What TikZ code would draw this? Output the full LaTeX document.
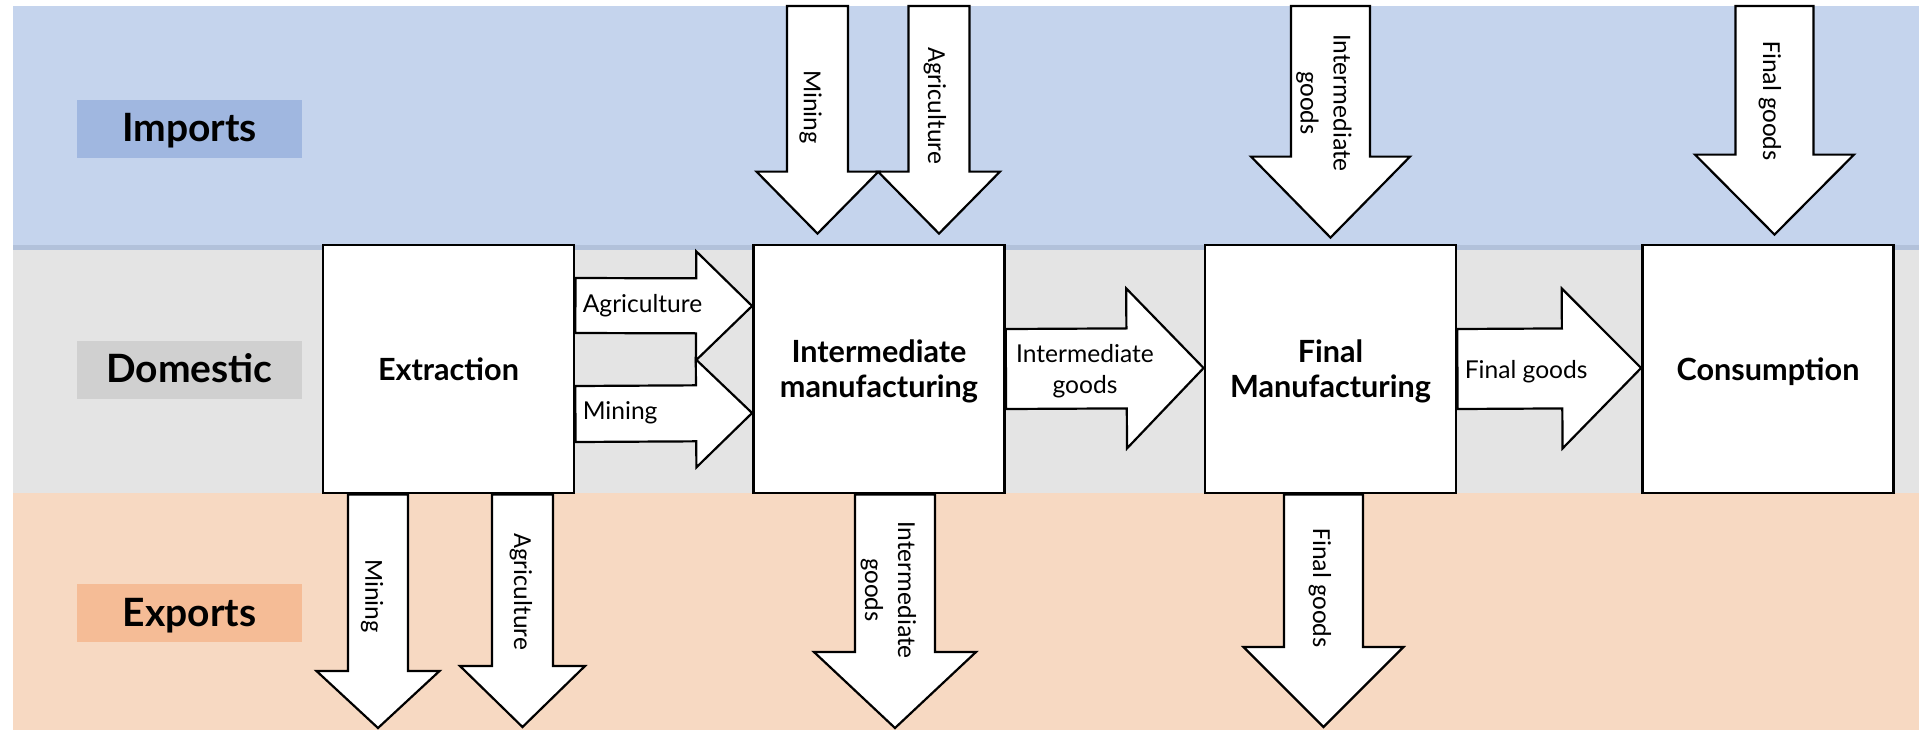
\documentclass[tikz,border=0pt]{standalone}
\usepackage{fontspec}
\setmainfont{Lato}
\newfontfamily\vfont{Carlito}
\usetikzlibrary{calc}
\pgfdeclarelayer{bg}
\pgfdeclarelayer{arr}
\pgfsetlayers{bg,arr,main}

\definecolor{impband}{RGB}{197,212,237}
\definecolor{implab}{RGB}{160,183,224}
\definecolor{sepline}{RGB}{178,193,218}
\definecolor{domband}{RGB}{228,228,228}
\definecolor{domlab}{RGB}{208,208,208}
\definecolor{expband}{RGB}{247,217,194}
\definecolor{explab}{RGB}{245,188,150}

\tikzset{
  box/.style={draw, line width=1.4pt, fill=white, minimum width=125.5pt,
    minimum height=124pt, inner sep=0pt, align=center, text depth=0pt,
    font=\fontsize{15.3}{17.5}\selectfont\bfseries},
  bandlab/.style={minimum width=112.5pt, minimum height=29pt, inner sep=0pt,
    text height=14.5pt, text depth=1.5pt,
    font=\fontsize{19.5}{22}\selectfont\bfseries},
  blk/.style={draw, line width=1.1pt, fill=white, line join=miter},
  hlab/.style={inner sep=0pt, align=center, font=\fontsize{12.3}{15.5}\selectfont},
  vlab/.style={inner sep=0pt, align=center, rotate=-90,
    font=\vfont\fontsize{13}{16.5}\selectfont},
}

% block arrow: tail, tip, shaft half width, head half width, head length
\newcommand\blkarrow[5]{%
  \coordinate (ba-base) at ($(#2)!#5!(#1)$);
  \draw[blk] ($(#1)!#3!90:(#2)$) -- ($(ba-base)!#3!90:(#2)$)
    -- ($(ba-base)!#4!90:(#2)$) -- (#2)
    -- ($(ba-base)!#4!-90:(#2)$) -- ($(ba-base)!#3!-90:(#2)$)
    -- ($(#1)!#3!-90:(#2)$) -- cycle;
}

\begin{document}
\begin{tikzpicture}[x=0.5pt,y=-0.5pt]
\useasboundingbox (0,0) rectangle (1919,730);

% bands
\begin{pgfonlayer}{bg}
  \fill[impband] (13,6) rectangle (1919,245);
  \fill[sepline] (13,245) rectangle (1919,249.5);
  \fill[domband] (13,249.5) rectangle (1919,493);
  \fill[expband] (13,493) rectangle (1919,730);
\end{pgfonlayer}

% band labels
\node[bandlab, fill=implab] (imports) at (189.5,128.5) {Imports};
\node[bandlab, fill=domlab] (domestic) at (189.5,369.5) {Domestic};
\node[bandlab, fill=explab] (exports) at (189.5,613) {Exports};

% stages
\node[box] (ext)  at (448.5,369) {Extraction};
\node[box] (im)   at (879,369)   {Intermediate\\manufacturing};
\node[box] (fm)   at (1330.5,369) {Final\\Manufacturing};
\node[box] (cons) at (1768,369)  {Consumption};

% flow end points
\coordinate (agrT) at (ext.east |- 0,305.5);
\coordinate (agrH) at (im.west |- 0,306);
\coordinate (minT) at (ext.east |- 0,414);
\coordinate (minH) at (im.west |- 0,413);
\coordinate (igT) at (im.east |- 0,369);
\coordinate (igH) at (fm.west |- 0,368);
\coordinate (fgT) at (fm.east |- 0,369);
\coordinate (fgH) at (cons.west |- 0,368);

\coordinate (iMinT) at (817.5,6);
\coordinate (iMinH) at (im.north -| 817.5,0);
\coordinate (iAgrT) at (939,6);
\coordinate (iAgrH) at (im.north -| 939,0);
\coordinate (iIgT) at (1330.5,6);
\coordinate (iIgH) at (fm.north -| 1330.5,0);
\coordinate (iFgT) at (1774.5,6);
\coordinate (iFgH) at (cons.north -| 1774.5,0);

\coordinate (xMinT) at (ext.south -| 378,0);
\coordinate (xMinH) at (378,728);
\coordinate (xAgrT) at (ext.south -| 522.5,0);
\coordinate (xAgrH) at (522.5,727);
\coordinate (xIgT) at (im.south -| 895,0);
\coordinate (xIgH) at (895,728);
\coordinate (xFgT) at (fm.south -| 1323.5,0);
\coordinate (xFgH) at (1323.5,727);

\begin{pgfonlayer}{arr}
  % domestic flows
  \blkarrow{agrT}{agrH}{13.75pt}{27.25pt}{28pt}
  \blkarrow{minT}{minH}{14pt}{27pt}{28pt}
  \blkarrow{igT}{igH}{20pt}{40pt}{38.5pt}
  \blkarrow{fgT}{fgH}{20pt}{40pt}{39.5pt}
  % imports
  \blkarrow{iMinT}{$(iMinH)+(0,-10)$}{15.25pt}{30.5pt}{31pt}
  \blkarrow{iAgrT}{$(iAgrH)+(0,-10)$}{15.25pt}{30.5pt}{31pt}
  \blkarrow{iIgT}{$(iIgH)+(0,-6)$}{19.75pt}{39.75pt}{40.5pt}
  \blkarrow{iFgT}{$(iFgH)+(0,-9)$}{19.5pt}{39.75pt}{40pt}
  % exports
  \blkarrow{xMinT}{xMinH}{15pt}{30.75pt}{28.5pt}
  \blkarrow{xAgrT}{xAgrH}{15.25pt}{31.25pt}{30.5pt}
  \blkarrow{xIgT}{xIgH}{20pt}{40.5pt}{38pt}
  \blkarrow{xFgT}{xFgH}{19.75pt}{40pt}{40pt}
\end{pgfonlayer}

% flow labels
\node[hlab, anchor=west] (tAgr) at ($(agrT)+(7,0)$) {Agriculture};
\node[hlab, anchor=west] (tMin) at ($(minT)+(7,-1)$) {Mining};
\node[hlab] (tIg) at (1085,371.5) {Intermediate\\goods};
\node[hlab, anchor=west] (tFg) at ($(fgT)+(7,3)$) {Final goods};

\node[vlab] (viMin) at (810.5,107) {Mining};
\node[vlab] (viAgr) at (935,106) {Agriculture};
\node[vlab] (viIg) at (1324,103) {Intermediate\\goods};
\node[vlab] (viFg) at (1770,101) {Final goods};
\node[vlab] (vxMin) at (372,596) {Mining};
\node[vlab] (vxAgr) at (521,592) {Agriculture};
\node[vlab] (vxIg) at (888.5,590) {Intermediate\\goods};
\node[vlab] (vxFg) at (1320,588) {Final goods};
\end{tikzpicture}
\end{document}
